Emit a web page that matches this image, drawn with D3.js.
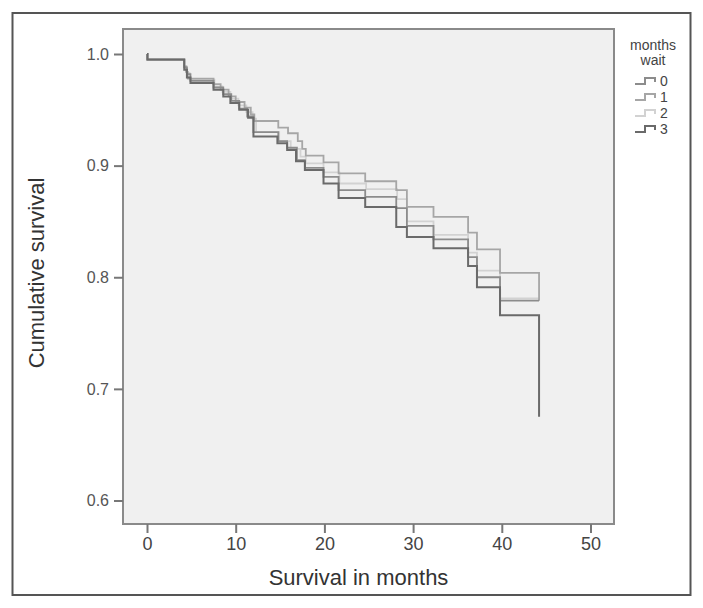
<!DOCTYPE html>
<html>
<head>
<meta charset="utf-8">
<script src="https://cdn.jsdelivr.net/npm/d3@7"></script>
<style>
  html, body { margin: 0; padding: 0; background: #fff; }
  svg { display: block; }
</style>
</head>
<body>
<svg id="chart" width="703" height="608"></svg>
<script>
// ---- data ----
const groups = ["0", "1", "2", "3"];
const groupColors = ["#8c8c8c", "#a6a6a6", "#d2d2d2", "#6a6a6a"];
const xTicks = [0, 10, 20, 30, 40, 50];
const yTicks = [0.6, 0.7, 0.8, 0.9, 1.0];

// step points: [time (months), cumulative survival after that time]
const times0 = [0, 0.05, 4.2, 4.5, 4.9, 7.5, 8.6, 9.5, 10.4, 11.3, 12.0, 14.8, 15.8, 16.9, 17.8, 19.9, 21.6, 24.6, 28.1, 29.3, 32.3, 36.2, 37.2, 39.8, 44.2];
const surv0  = [1.0, 0.995, 0.988, 0.982, 0.976, 0.970, 0.964, 0.958, 0.951, 0.944, 0.930, 0.922, 0.916, 0.905, 0.898, 0.890, 0.878, 0.872, 0.862, 0.846, 0.834, 0.818, 0.800, 0.779, 0.779];

const times1 = [0, 0.05, 4.2, 4.4, 4.6, 7.5, 8.3, 9.2, 10.0, 11.0, 11.7, 12.1, 14.8, 15.9, 17.0, 17.5, 17.9, 19.9, 21.6, 24.6, 28.1, 29.3, 32.3, 36.2, 37.2, 39.8, 44.2];
const surv1  = [1.0, 0.995, 0.989, 0.984, 0.978, 0.973, 0.968, 0.962, 0.957, 0.952, 0.946, 0.940, 0.934, 0.929, 0.922, 0.915, 0.909, 0.903, 0.893, 0.886, 0.878, 0.863, 0.854, 0.840, 0.825, 0.804, 0.779];

const times2 = [0, 0.05, 4.2, 4.5, 4.8, 7.6, 8.5, 9.4, 10.3, 11.2, 11.9, 12.3, 14.9, 16.2, 17.3, 17.9, 19.9, 21.7, 24.7, 28.2, 29.3, 32.3, 36.2, 37.2, 39.8, 44.2];
const surv2  = [1.0, 0.995, 0.989, 0.983, 0.977, 0.971, 0.966, 0.960, 0.954, 0.948, 0.942, 0.930, 0.922, 0.915, 0.908, 0.902, 0.894, 0.884, 0.879, 0.870, 0.850, 0.838, 0.822, 0.806, 0.781, 0.781];

const times3 = [0, 0.05, 4.2, 4.5, 4.9, 7.5, 8.6, 9.4, 10.4, 11.4, 12.0, 14.7, 15.8, 16.8, 17.8, 19.9, 21.6, 24.6, 28.1, 29.3, 32.3, 36.2, 37.2, 39.8, 44.2];
const surv3  = [1.0, 0.995, 0.986, 0.979, 0.974, 0.968, 0.962, 0.956, 0.950, 0.943, 0.926, 0.920, 0.914, 0.904, 0.896, 0.884, 0.871, 0.863, 0.845, 0.836, 0.826, 0.810, 0.791, 0.766, 0.675];

const seriesTimes = [times0, times1, times2, times3];
const seriesSurv = [surv0, surv1, surv2, surv3];

// ---- layout ----
const svg = d3.select("#chart");
const plot = { left: 123, top: 29, right: 614, bottom: 524 };

const x = d3.scaleLinear().domain([0, 50]).range([147, 590.5]);
const y = d3.scaleLinear().domain([0.6, 1.0]).range([500.5, 54]);

// outer frame
svg.append("rect")
  .attr("x", 12.5).attr("y", 13).attr("width", 678).attr("height", 582)
  .attr("fill", "#fff").attr("stroke", "#555").attr("stroke-width", 2);

// plot background
svg.append("rect")
  .attr("x", plot.left).attr("y", plot.top)
  .attr("width", plot.right - plot.left).attr("height", plot.bottom - plot.top)
  .attr("fill", "#f0f0f0").attr("stroke", "#8a8a8a").attr("stroke-width", 2);

// axes
const xAxis = svg.append("g")
  .attr("transform", `translate(0,${plot.bottom})`)
  .call(d3.axisBottom(x).tickValues(xTicks).tickFormat(d3.format("d")).tickSize(9).tickPadding(4));
xAxis.select(".domain").remove();
xAxis.selectAll(".tick line").attr("stroke", "#777").attr("stroke-width", 2);
xAxis.selectAll(".tick text")
  .attr("fill", "#444")
  .style("font-family", "'Liberation Sans Narrow', 'Liberation Sans', sans-serif")
  .style("font-size", "18px");

const yAxis = svg.append("g")
  .attr("transform", `translate(${plot.left},0)`)
  .call(d3.axisLeft(y).tickValues(yTicks).tickFormat(d3.format(".1f")).tickSize(9).tickPadding(5));
yAxis.select(".domain").remove();
yAxis.selectAll(".tick line").attr("stroke", "#777").attr("stroke-width", 2);
yAxis.selectAll(".tick text")
  .attr("fill", "#555")
  .style("font-family", "'Liberation Sans', Arial, sans-serif")
  .style("font-size", "16px");

// axis titles
svg.append("text")
  .attr("x", (plot.left + plot.right) / 2 - 10).attr("y", 585)
  .attr("text-anchor", "middle")
  .attr("fill", "#333")
  .style("font-family", "'Liberation Sans Narrow', 'Liberation Sans', sans-serif")
  .style("font-size", "22px")
  .text("Survival in months");

svg.append("text")
  .attr("transform", "translate(44,273) rotate(-90)")
  .attr("text-anchor", "middle")
  .attr("fill", "#333")
  .style("font-family", "'Liberation Sans Narrow', 'Liberation Sans', sans-serif")
  .style("font-size", "22px")
  .text("Cumulative survival");

// survival curves
const line = d3.line()
  .x(d => x(d[0]))
  .y(d => y(d[1]))
  .curve(d3.curveStepAfter);

const drawOrder = [2, 1, 0, 3];
drawOrder.forEach(i => {
  const pts = seriesTimes[i].map((t, k) => [t, seriesSurv[i][k]]);
  svg.append("path")
    .datum(pts)
    .attr("d", line)
    .attr("fill", "none")
    .attr("stroke", groupColors[i])
    .attr("stroke-width", i === 3 ? 2 : 1.8);
});

// legend
const legend = svg.append("g");
legend.append("text")
  .attr("x", 653).attr("y", 50)
  .attr("text-anchor", "middle")
  .attr("fill", "#444")
  .style("font-family", "'Liberation Sans', Arial, sans-serif")
  .style("font-size", "14px")
  .text("months");
legend.append("text")
  .attr("x", 653).attr("y", 65)
  .attr("text-anchor", "middle")
  .attr("fill", "#444")
  .style("font-family", "'Liberation Sans', Arial, sans-serif")
  .style("font-size", "14px")
  .text("wait");

groups.forEach((g, i) => {
  const cy = 81 + i * 16;
  legend.append("path")
    .attr("d", `M635,${cy + 3} H645 V${cy - 3} H655 V${cy + 1}`)
    .attr("fill", "none")
    .attr("stroke", groupColors[i])
    .attr("stroke-width", 2);
  legend.append("text")
    .attr("x", 660).attr("y", cy + 5)
    .attr("fill", "#444")
    .style("font-family", "'Liberation Sans', Arial, sans-serif")
    .style("font-size", "14px")
    .text(g);
});
</script>
</body>
</html>
